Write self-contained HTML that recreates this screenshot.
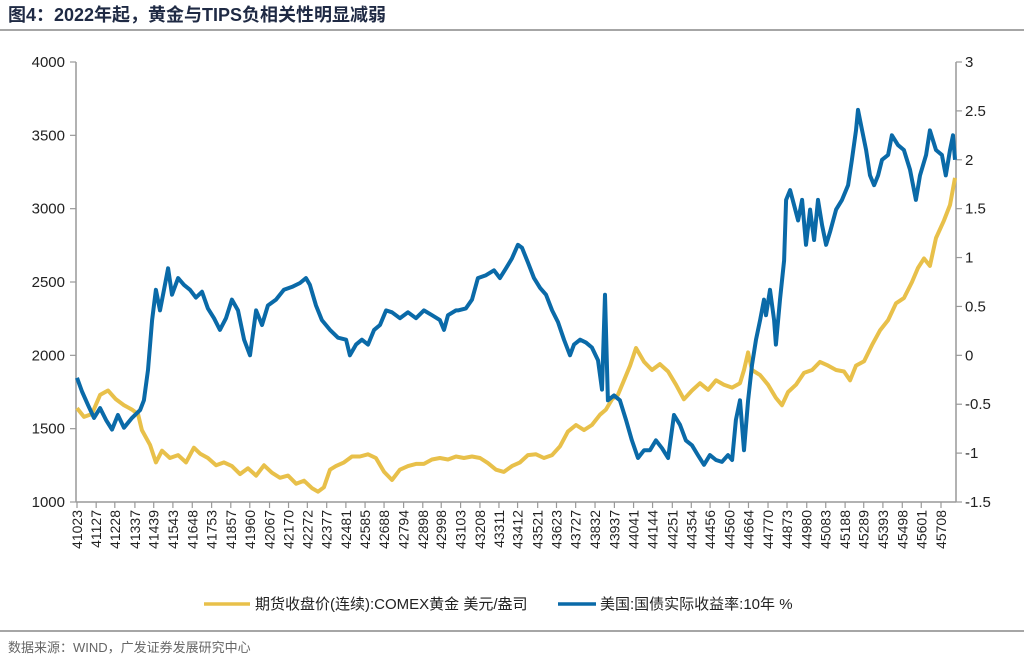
<!DOCTYPE html>
<html><head><meta charset="utf-8">
<style>
body{margin:0;background:#fff;}
svg{display:block;font-family:"Liberation Sans","Noto Sans CJK SC",sans-serif;}
</style></head>
<body>
<svg id="chart" width="1024" height="659" viewBox="0 0 1024 659" xmlns="http://www.w3.org/2000/svg">
<text x="8" y="21" font-size="18" font-weight="bold" fill="#1f2a44">图4：2022年起，黄金与TIPS负相关性明显减弱</text>
<line x1="0" y1="30" x2="1024" y2="30" stroke="#888" stroke-width="1.5"/>
<g id="axes"></g>
<g id="series"></g>
<g>
<line x1="204" y1="604" x2="250" y2="604" stroke="#E8C04A" stroke-width="3.5"/>
<text x="255" y="609" font-size="15" fill="#222">期货收盘价(连续):COMEX黄金 美元/盎司</text>
<line x1="558" y1="604" x2="596" y2="604" stroke="#0a6aa8" stroke-width="3.5"/>
<text x="600" y="609" font-size="15" fill="#222">美国:国债实际收益率:10年 %</text>
</g>
<line x1="0" y1="631" x2="1024" y2="631" stroke="#888" stroke-width="1.5"/>
<text x="8" y="652" font-size="13" fill="#666">数据来源：WIND，广发证券发展研究中心</text>
</svg>
<script>
const xLabels=[41023,41127,41228,41337,41439,41543,41648,41753,41857,41960,42067,42170,42272,42377,42481,42585,42688,42794,42898,42998,43103,43208,43311,43412,43521,43623,43727,43832,43937,44041,44144,44251,44354,44456,44560,44664,44770,44873,44980,45083,45188,45289,45393,45498,45601,45708];
const leftTicks=[1000,1500,2000,2500,3000,3500,4000];
const rightTicks=[-1.5,-1,-0.5,0,0.5,1,1.5,2,2.5,3];
const goldDates=[41023,41061,41104,41148,41191,41234,41278,41321,41354,41375,41419,41451,41484,41527,41571,41614,41657,41690,41733,41777,41820,41863,41907,41950,41994,42037,42080,42124,42167,42211,42254,42297,42330,42362,42395,42427,42471,42514,42557,42601,42644,42688,42731,42774,42818,42861,42904,42948,42991,43035,43078,43121,43165,43208,43251,43295,43338,43381,43425,43468,43512,43555,43599,43642,43685,43729,43772,43815,43859,43891,43924,43956,43989,44022,44054,44098,44141,44184,44228,44271,44314,44358,44401,44445,44488,44531,44575,44618,44640,44662,44683,44727,44770,44813,44846,44879,44922,44965,45009,45052,45096,45139,45182,45215,45247,45291,45334,45377,45421,45464,45507,45551,45583,45616,45648,45681,45724,45757,45784];
const goldValues=[1640,1580,1600,1730,1760,1700,1660,1630,1600,1490,1390,1270,1350,1300,1320,1270,1370,1330,1300,1250,1270,1245,1190,1230,1180,1250,1200,1165,1180,1125,1145,1095,1070,1100,1220,1245,1270,1310,1310,1325,1300,1205,1150,1220,1245,1260,1260,1290,1300,1290,1310,1300,1310,1300,1265,1220,1205,1245,1270,1320,1325,1300,1320,1380,1480,1525,1490,1525,1595,1630,1700,1730,1830,1930,2050,1955,1900,1940,1890,1800,1700,1760,1810,1765,1830,1800,1780,1810,1900,2020,1900,1865,1800,1710,1660,1750,1800,1880,1900,1955,1930,1900,1890,1830,1930,1960,2070,2170,2240,2355,2390,2500,2595,2660,2610,2800,2920,3025,3210];
const yieldDates=[41023,41050,41083,41115,41148,41180,41213,41245,41278,41321,41365,41386,41408,41430,41451,41473,41495,41517,41538,41571,41603,41636,41668,41701,41733,41766,41798,41831,41863,41896,41929,41961,41994,42026,42058,42102,42145,42189,42232,42265,42286,42319,42351,42395,42438,42482,42503,42536,42568,42601,42634,42666,42699,42731,42774,42818,42861,42904,42948,42991,43013,43035,43078,43089,43132,43165,43197,43241,43284,43316,43349,43381,43414,43436,43468,43501,43534,43566,43599,43631,43664,43696,43718,43751,43783,43815,43848,43870,43886,43902,43935,43967,44000,44032,44065,44098,44130,44162,44195,44228,44260,44293,44325,44358,44390,44423,44455,44488,44520,44553,44575,44596,44618,44640,44662,44683,44705,44727,44748,44759,44781,44803,44813,44835,44857,44868,44890,44911,44933,44955,44976,44998,45020,45041,45063,45085,45106,45139,45171,45204,45225,45247,45258,45280,45302,45323,45345,45367,45388,45421,45442,45475,45507,45540,45572,45594,45627,45648,45681,45713,45734,45757,45773,45784];
const yieldValues=[-0.23,-0.37,-0.51,-0.64,-0.54,-0.66,-0.76,-0.61,-0.74,-0.64,-0.56,-0.46,-0.15,0.36,0.67,0.46,0.67,0.89,0.62,0.79,0.72,0.67,0.59,0.65,0.48,0.38,0.26,0.38,0.57,0.46,0.16,0.0,0.46,0.31,0.51,0.57,0.67,0.70,0.74,0.79,0.72,0.51,0.36,0.26,0.18,0.16,0.0,0.11,0.16,0.11,0.26,0.31,0.46,0.44,0.38,0.44,0.38,0.46,0.41,0.36,0.26,0.41,0.46,0.46,0.48,0.57,0.79,0.82,0.87,0.79,0.89,0.99,1.13,1.10,0.95,0.79,0.69,0.62,0.46,0.34,0.16,0.0,0.11,0.16,0.13,0.08,-0.05,-0.35,0.62,-0.46,-0.41,-0.46,-0.66,-0.87,-1.05,-0.97,-0.97,-0.87,-0.95,-1.05,-0.61,-0.71,-0.87,-0.92,-1.02,-1.12,-1.02,-1.07,-1.09,-1.02,-1.07,-0.66,-0.46,-0.97,-0.46,-0.10,0.16,0.36,0.57,0.41,0.67,0.36,0.11,0.57,0.97,1.59,1.69,1.54,1.38,1.59,1.13,1.49,1.18,1.59,1.33,1.13,1.26,1.49,1.59,1.74,2.00,2.30,2.51,2.30,2.10,1.84,1.74,1.84,2.00,2.05,2.25,2.15,2.10,1.90,1.59,1.84,2.05,2.30,2.10,2.05,1.84,2.10,2.25,2.00];

const NS="http://www.w3.org/2000/svg";
const X0=77,X1=941,D0=41023,D1=45708;
const PL=76,PR=956,PT=62,PB=502;
function xScale(d){return X0+(d-D0)/(D1-D0)*(X1-X0);}
function yLeft(v){return PB-(v-1000)/3000*(PB-PT);}
function yRight(v){return PB-(v+1.5)/4.5*(PB-PT);}
function mk(tag,attrs,parent){const e=document.createElementNS(NS,tag);for(const k in attrs)e.setAttribute(k,attrs[k]);parent.appendChild(e);return e;}
const axes=document.getElementById('axes');
const ser=document.getElementById('series');
const AX="#999";
let l;
l=mk('line',{x1:PL,y1:PT,x2:PL,y2:PB,stroke:AX,'stroke-width':1.5},axes);


l=mk('line',{x1:PR,y1:PT,x2:PR,y2:PB,stroke:AX,'stroke-width':1.5},axes);


l=mk('line',{x1:PL,y1:PB,x2:PR,y2:PB,stroke:AX,'stroke-width':1.5},axes);


leftTicks.forEach(v=>{
  const y=yLeft(v);
  const t=mk('line',{x1:PL-6,y1:y,x2:PL,y2:y,stroke:AX,'stroke-width':1.2},axes);
  
  
  const tx=mk('text',{x:PL-11,y:y+5,'font-size':15,'text-anchor':'end',fill:'#222'},axes);
  tx.textContent=v;
  
  
});
rightTicks.forEach(v=>{
  const y=yRight(v);
  const t=mk('line',{x1:PR,y1:y,x2:PR+6,y2:y,stroke:AX,'stroke-width':1.2},axes);
  
  
  const tx=mk('text',{x:PR+9,y:y+5,'font-size':15,fill:'#222'},axes);
  tx.textContent=v;
  
  
});
xLabels.forEach(d=>{
  const x=xScale(d);
  const t=mk('line',{x1:x,y1:PB,x2:x,y2:PB+6,stroke:AX,'stroke-width':1.2},axes);
  
  
  const tx=mk('text',{x:0,y:0,'font-size':14,'text-anchor':'end',fill:'#222',transform:`translate(${x+5},${PB+8}) rotate(-90)`},axes);
  tx.textContent=d;
  
  
});
function path(dates,vals,ys){return dates.map((d,i)=>(i?'L':'M')+xScale(d).toFixed(1)+','+ys(vals[i]).toFixed(1)).join(' ');}
const pg=mk('path',{d:path(goldDates,goldValues,yLeft),fill:'none',stroke:'#E8C04A','stroke-width':4,'stroke-linejoin':'round'},ser);


const py=mk('path',{d:path(yieldDates,yieldValues,yRight),fill:'none',stroke:'#0a6aa8','stroke-width':4,'stroke-linejoin':'round'},ser);


</script>
</body></html>
